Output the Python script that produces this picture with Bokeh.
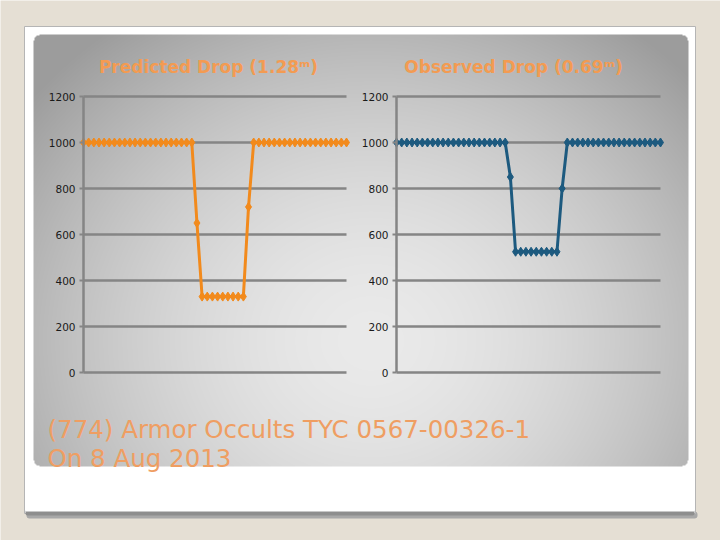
import numpy as np
from bokeh.plotting import figure
from bokeh.models import Range1d, LinearAxis, FixedTicker
from bokeh.core.properties import value
from bokeh.embed import file_html
from bokeh.resources import INLINE

# ---------------- data ----------------
predicted = [1000, 1000, 1000, 1000, 1000, 1000, 1000, 1000, 1000, 1000, 1000,
             1000, 1000, 1000, 1000, 1000, 1000, 1000, 1000, 1000, 1000, 1000,
             650,
             330, 330, 330, 330, 330, 330, 330, 330, 330,
             720,
             1000, 1000, 1000, 1000, 1000, 1000, 1000, 1000, 1000, 1000,
             1000, 1000, 1000, 1000, 1000, 1000, 1000, 1000, 1000]
observed = [1000, 1000, 1000, 1000, 1000, 1000, 1000, 1000, 1000, 1000, 1000,
            1000, 1000, 1000, 1000, 1000, 1000, 1000, 1000, 1000, 1000, 1000,
            850,
            525, 525, 525, 525, 525, 525, 525, 525, 525,
            800,
            1000, 1000, 1000, 1000, 1000, 1000, 1000, 1000, 1000, 1000,
            1000, 1000, 1000, 1000, 1000, 1000, 1000, 1000, 1000]
y_ticks = [0, 200, 400, 600, 800, 1000, 1200]
title_left = "Predicted Drop (1.28\u1d50)"
title_right = "Observed Drop (0.69\u1d50)"
caption_1 = "(774) Armor Occults TYC 0567-00326-1"
caption_2 = "On 8 Aug 2013"

# ---------------- layout constants (screen pixels) ----------------
W, H = 720, 540
OFF = 0
p = figure(width=W, height=H, output_backend="svg", toolbar_location=None,
           x_range=Range1d(OFF, OFF + W), y_range=Range1d(OFF + H, OFF),
           min_border=0, outline_line_color=None)
p.axis.visible = False
p.grid.visible = False
p.background_fill_color = "#e5dfd4"
p.border_fill_color = "#e5dfd4"

# slide card
p.quad(left=26, right=697, top=511, bottom=518, fill_color="#a8a8a8", line_color=None, border_radius=3)
p.quad(left=24, right=695, top=26, bottom=513, fill_color="white", line_color="#b5b5b5", line_width=1)
p.quad(left=25, right=694, top=509, bottom=515, fill_color="#8e8e8e", line_color=None, border_radius=2)
p.quad(left=25, right=694, top=500, bottom=511, fill_color="white", line_color=None)

# gradient panel
PX0, PX1, PY0, PY1 = 33, 688, 34, 466
pw, ph = PX1 - PX0, PY1 - PY0
xx, yy = np.meshgrid(np.arange(pw) + PX0, np.arange(ph) + PY0)
t = np.sqrt(((xx - 370) / 380.0) ** 2 + ((yy - 340) / 340.0) ** 2)
t = np.clip(t, 0, 1.15) / 1.15
g = (234 - (234 - 156) * t ** 1.7).astype(np.uint32)
alpha = np.full(g.shape, 255, dtype=np.uint32)
r = 6
lx = np.arange(pw)[None, :].repeat(ph, 0)
ly = np.arange(ph)[:, None].repeat(pw, 1)
for cx, cy in [(r, r), (pw - 1 - r, r), (r, ph - 1 - r), (pw - 1 - r, ph - 1 - r)]:
    mx = ((lx < r) if cx == r else (lx > pw - 1 - r))
    my = ((ly < r) if cy == r else (ly > ph - 1 - r))
    outside = mx & my & (((lx - cx) ** 2 + (ly - cy) ** 2) > r * r)
    alpha[outside] = 0
img = (alpha << 24) | (g << 16) | (g << 8) | g
p.image_rgba(image=[img.view(np.uint32).reshape(ph, pw)], x=PX0, y=PY0, dw=pw, dh=ph)

# ---------------- charts ----------------
def add_chart(name, data, color, px_left, px_right, px_top, px_bottom):
    n = len(data)
    xs = list(range(n))
    kx = (px_right - px_left) / (n - 1)
    xs0 = -(px_left - OFF) / kx
    p.extra_x_ranges[name + "x"] = Range1d(xs0, xs0 + W / kx)
    ymax = y_ticks[-1]
    ky = (px_bottom - px_top) / ymax
    yend = ymax + (px_top - OFF) / ky
    p.extra_y_ranges[name + "y"] = Range1d(yend - H / ky, yend)
    kw = dict(x_range_name=name + "x", y_range_name=name + "y")
    p.segment(x0=[xs[0]] * len(y_ticks), x1=[xs[-1]] * len(y_ticks), y0=y_ticks, y1=y_ticks,
              line_color="#858585", line_width=2.5, **kw)
    ax = LinearAxis(fixed_location=xs[0], ticker=FixedTicker(ticks=y_ticks),
                    bounds=(y_ticks[0], y_ticks[-1]), **kw)
    ax.axis_line_color = "#858585"
    ax.axis_line_width = 2.5
    ax.major_tick_line_color = "#858585"
    ax.major_tick_line_width = 2
    ax.major_tick_out = 4
    ax.major_tick_in = 0
    ax.minor_tick_line_color = None
    ax.major_label_standoff = 4
    ax.major_label_text_font = "DejaVu Sans"
    ax.major_label_text_font_size = "10.5px"
    ax.major_label_text_color = "#1a1a1a"
    p.add_layout(ax, "left")
    p.line(xs, data, line_color=color, line_width=3, **kw)
    p.scatter(xs, data, marker="diamond", size=9, fill_color=color, line_color=color, **kw)

add_chart("L", predicted, "#f28a1c", 83, 346, 96, 372)
add_chart("R", observed, "#1d5a7f", 396, 660, 96, 372)

p.text(x=[208, 513], y=[66, 66], text=[title_left, title_right],
       text_font=value("DejaVu Sans"), text_font_style="bold", text_font_size="17px",
       text_color="#f39b52", text_align="center", text_baseline="middle")
p.text(x=[47, 47], y=[429, 458], text=[caption_1, caption_2],
       text_font=value("DejaVu Sans"), text_font_size="24.5px",
       text_color="#ef9e62", text_align="left", text_baseline="alphabetic")

open("out.html", "w").write(file_html(p, INLINE))
